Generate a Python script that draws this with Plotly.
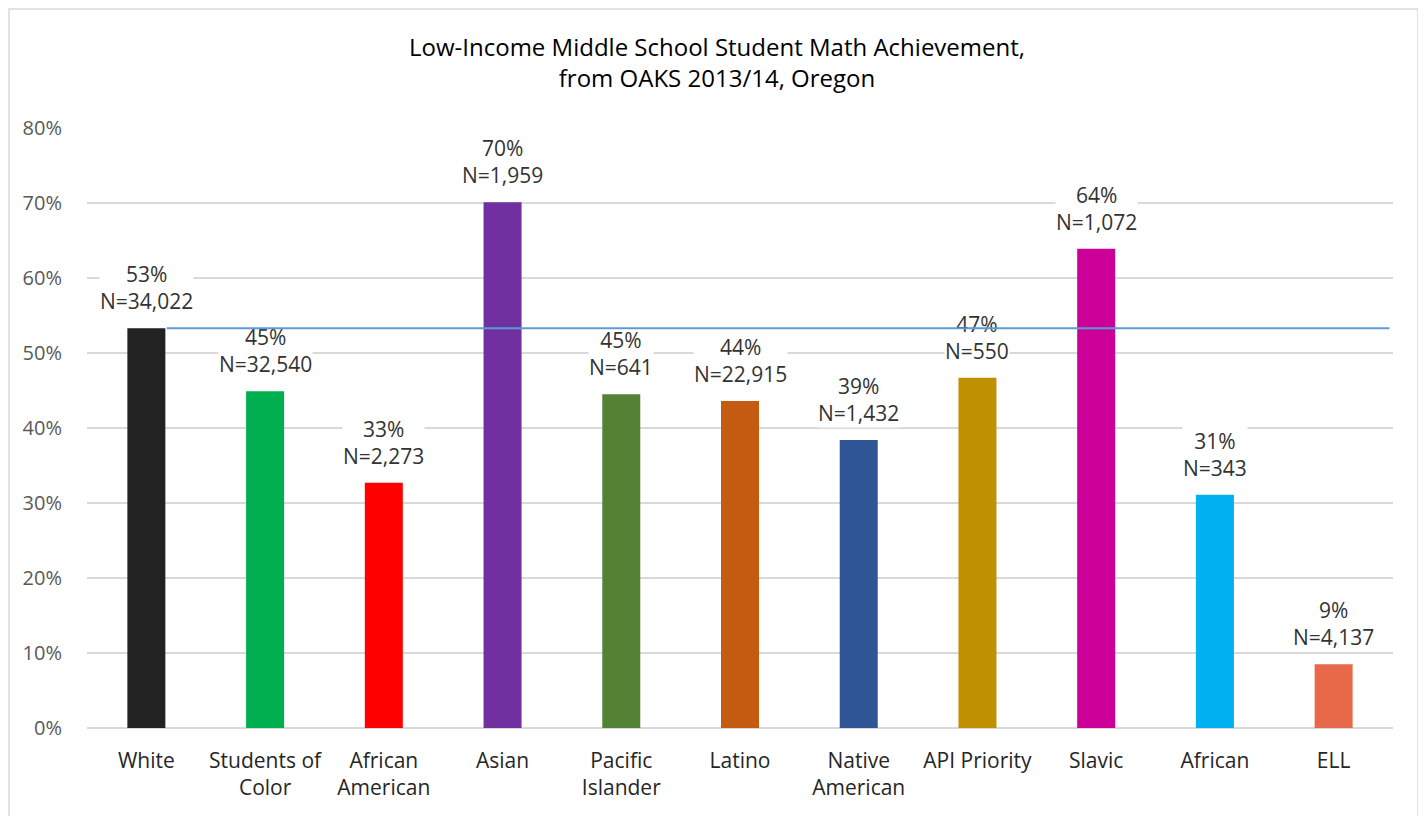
import plotly.graph_objects as go

categories = ["White", "Students of Color", "African American", "Asian", "Pacific Islander",
              "Latino", "Native American", "API Priority", "Slavic", "African", "ELL"]
tick_text = ["White", "Students of<br>Color", "African<br>American", "Asian", "Pacific<br>Islander",
             "Latino", "Native<br>American", "API Priority", "Slavic", "African", "ELL"]
values = [0.533, 0.449, 0.327, 0.701, 0.445, 0.436, 0.384, 0.467, 0.639, 0.311, 0.085]
pct_labels = ["53%", "45%", "33%", "70%", "45%", "44%", "39%", "47%", "64%", "31%", "9%"]
n_labels = ["N=34,022", "N=32,540", "N=2,273", "N=1,959", "N=641", "N=22,915",
            "N=1,432", "N=550", "N=1,072", "N=343", "N=4,137"]
colors = ["#222222", "#00B050", "#FF0000", "#7030A0", "#548235", "#C55A11",
          "#2F5597", "#BF9000", "#CC0099", "#00B0F0", "#E8694A"]
reference_value = values[0]

FONT = "Open Sans"
BAR_WIDTH = 0.32
W, H = 1418, 808
L, R, T, B = 79, 33, 120, 88
PW, PH = W - L - R, H - T - B

fig = go.Figure()
xs = list(range(len(categories)))
fig.add_trace(go.Bar(
    x=xs, y=values, marker=dict(color=colors, line=dict(width=0)),
    width=BAR_WIDTH, hoverinfo="skip", showlegend=False,
))

annotations = []
for i, (v, p, n) in enumerate(zip(values, pct_labels, n_labels)):
    annotations.append(dict(
        x=i, y=v, xref="x", yref="y", text=f"{p}<br>{n}", showarrow=False,
        yanchor="bottom", yshift=12, bgcolor="white", borderpad=0,
        font=dict(family=FONT, size=21, color="#333333"),
    ))

# average reference line (drawn above labels)
annotations.append(dict(
    x=len(categories) - 1 + 0.47, y=reference_value, xref="x", yref="y",
    ax=0 + BAR_WIDTH / 2, ay=reference_value, axref="x", ayref="y",
    text="", showarrow=True, arrowhead=0, arrowwidth=2, arrowcolor="#5B9BD5",
    standoff=0, startstandoff=0,
))

fig.update_layout(
    width=W, height=H,
    margin=dict(l=L, r=R, t=T, b=B),
    paper_bgcolor="white", plot_bgcolor="white",
    title=dict(
        text="Low-Income Middle School Student Math Achievement,<br>from OAKS 2013/14, Oregon",
        x=0.5, xanchor="center", xref="container",
        y=1 - 48 / H, yanchor="middle", yref="container",
        font=dict(family=FONT, size=24, color="#000000"),
    ),
    xaxis=dict(
        tickmode="array", tickvals=xs, ticktext=tick_text,
        range=[-0.5, len(categories) - 0.5],
        showgrid=False, zeroline=False, showline=False, ticks="",
        ticklabelstandoff=18,
        tickfont=dict(family=FONT, size=21, color="#262626"),
    ),
    yaxis=dict(
        range=[0, 0.8], dtick=0.1, tickformat=".0%",
        showgrid=True, gridcolor="#D9D9D9", gridwidth=1.5,
        zeroline=True, zerolinecolor="#D9D9D9", zerolinewidth=1.5,
        showline=False, ticks="", ticklabelstandoff=24,
        tickfont=dict(family=FONT, size=20, color="#595959"),
    ),
    annotations=annotations,
    shapes=[dict(
        type="rect", xref="paper", yref="paper",
        x0=(1 - L) / PW, x1=(1410 - L) / PW,
        y0=(T + PH - 830) / PH, y1=(T + PH - 1) / PH,
        line=dict(color="#D9D9D9", width=1.5), fillcolor="rgba(0,0,0,0)", layer="below",
    )],
)

fig.write_html("out.html")
